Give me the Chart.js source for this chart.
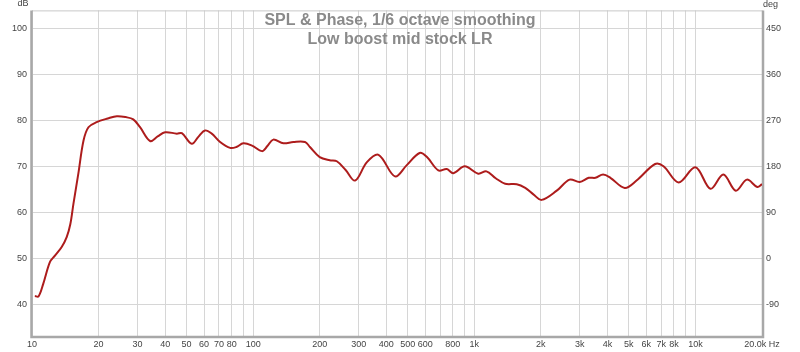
<!DOCTYPE html>
<html>
<head>
<meta charset="utf-8">
<script src="https://cdn.jsdelivr.net/npm/chart.js@4.4.1/dist/chart.umd.min.js"></script>
<style>
html,body{margin:0;padding:0;background:#fff;}
#wrap{width:800px;height:352px;}
</style>
</head>
<body>
<div id="wrap"><canvas id="c" width="800" height="352"></canvas></div>
<script>
const titleLines = ["SPL & Phase, 1/6 octave smoothing", "Low boost mid stock LR"];
const freqs = [10.3,10.7,11.25,12.06,12.7,13.6,14.35,14.9,15.4,16.2,17.1,18.0,19.6,22,24.2,26.5,28.7,30.8,34.2,37,40,45.2,47.6,52.8,56.5,60.6,65,70.9,78.7,84,90.3,98.9,109.6,116,123.3,137,152,171.6,180.6,200,222,239,262,289,327,369,438,494,566,611,688,751,804,906,1042,1135,1250,1379,1555,1700,1850,2017,2360,2697,2997,3293,3530,3823,4125,4790,5416,6574,7173,8395,10000,11700,13370,15220,17080,19040,20000];
const spl = [41.9,41.8,44.6,49.3,50.7,52.5,54.7,57.5,62.0,68.5,75.7,78.6,79.7,80.5,81.0,80.8,80.3,78.6,75.6,76.6,77.5,77.2,77.3,75.0,76.5,77.9,77.2,75.4,74.1,74.3,75.1,74.6,73.4,74.5,75.9,75.1,75.4,75.4,74.3,72.1,71.4,71.2,69.3,67.0,71.0,72.6,67.9,70.3,73.0,72.1,69.2,69.5,68.6,70.1,68.5,69.0,67.5,66.3,66.2,65.4,64.0,62.8,64.8,67.2,66.7,67.6,67.6,68.3,67.6,65.4,67.0,70.6,70.1,66.6,69.9,65.2,68.3,64.8,67.2,65.6,66.2];
const xGrid = [10,20,30,40,50,60,70,80,90,100,200,300,400,500,600,700,800,900,1000,2000,3000,4000,5000,6000,7000,8000,9000,10000,20000];
const xLabels = ["10","20","30","40","50","60","70","80","","100","200","300","400","500","600","","800","","1k","2k","3k","4k","5k","6k","7k","8k","","10k","20.0k Hz"];
const dbTicks = [40,50,60,70,80,90,100];
const degTicks = [-90,0,90,180,270,360,450];

const tickFont = {family: "'Liberation Sans', Arial, sans-serif", size: 9};
const tickColor = '#444';

const decor = {
  id: 'decor',
  beforeDatasetsDraw(chart) {
    const {ctx, chartArea: a} = chart;
    ctx.save();
    ctx.strokeStyle = '#c8c8c8';
    ctx.lineWidth = 1;
    ctx.beginPath(); ctx.moveTo(a.left, a.top + 0.5); ctx.lineTo(a.right, a.top + 0.5); ctx.stroke();
    ctx.strokeStyle = '#a8a8a8';
    ctx.lineWidth = 2.5;
    ctx.beginPath();
    ctx.moveTo(a.left - 0.5, a.top); ctx.lineTo(a.left - 0.5, a.bottom + 1);
    ctx.lineTo(a.right + 1, a.bottom + 1); ctx.lineTo(a.right + 1, a.top);
    ctx.stroke();
    ctx.fillStyle = '#8a8a8a';
    ctx.font = "bold 16px 'Liberation Sans', Arial, sans-serif";
    ctx.textAlign = 'center';
    ctx.textBaseline = 'alphabetic';
    ctx.fillText(titleLines[0], 400, 25);
    ctx.fillText(titleLines[1], 400, 44);
    ctx.fillStyle = tickColor;
    ctx.font = "9px 'Liberation Sans', Arial, sans-serif";
    ctx.textBaseline = 'middle';
    ctx.textAlign = 'center';
    ctx.fillText('dB', 23, 4);
    ctx.textAlign = 'left';
    ctx.fillText('deg', 763, 5);
    ctx.restore();
  }
};

new Chart(document.getElementById('c'), {
  type: 'scatter',
  data: {
    datasets: [{
      data: freqs.map((f, i) => ({x: f, y: spl[i]})),
      showLine: true,
      borderColor: '#ad1c1c',
      borderWidth: 2,
      pointRadius: 0,
      tension: 0.35,
      yAxisID: 'y'
    }]
  },
  options: {
    responsive: false,
    animation: false,
    devicePixelRatio: 1,
    layout: {padding: {top: 10, left: 0, right: 0, bottom: 0}},
    plugins: {legend: {display: false}, tooltip: {enabled: false}},
    scales: {
      x: {
        type: 'logarithmic', min: 10, max: 20000,
        afterBuildTicks: s => { s.ticks = xGrid.map(v => ({value: v})); },
        afterFit: s => { s.height = 16; },
        ticks: {autoSkip: false, maxRotation: 0, minRotation: 0, padding: 3, font: tickFont, color: tickColor,
          callback: (v) => { const i = xGrid.indexOf(v); return i >= 0 ? xLabels[i] : ''; }},
        grid: {color: '#d6d6d6', drawTicks: false},
        border: {display: false}
      },
      y: {
        position: 'left', min: 33.2, max: 104,
        afterBuildTicks: s => { s.ticks = dbTicks.map(v => ({value: v})); },
        afterFit: s => { s.width = 32; },
        ticks: {padding: 5, font: tickFont, color: tickColor},
        grid: {color: '#d6d6d6', drawTicks: false},
        border: {display: false}
      },
      y2: {
        position: 'right', min: -151.2, max: 486,
        afterBuildTicks: s => { s.ticks = degTicks.map(v => ({value: v})); },
        afterFit: s => { s.width = 38; },
        ticks: {padding: 4, font: tickFont, color: tickColor},
        grid: {display: false, drawTicks: false},
        border: {display: false}
      }
    }
  },
  plugins: [decor]
});
</script>
</body>
</html>
